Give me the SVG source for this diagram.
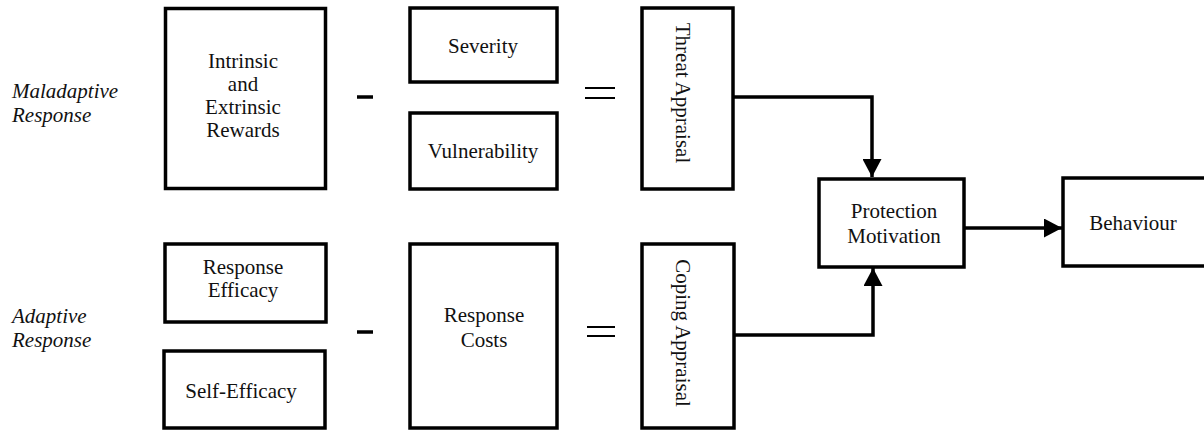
<svg xmlns="http://www.w3.org/2000/svg" width="1204" height="431" viewBox="0 0 1204 431">
<style>
.box{fill:#fff;stroke:#000;stroke-width:3.5}
.t{font-family:"Liberation Serif","Times New Roman",serif;font-size:21px;fill:#111;text-anchor:middle}
.it{font-family:"Liberation Serif","Times New Roman",serif;font-size:21px;font-style:italic;fill:#111}
.ln{stroke:#000;stroke-width:3.5;fill:none}
.op{stroke:#000;fill:none}
</style>
<defs>
<marker id="ah" viewBox="0 0 18 19" refX="18" refY="9.5" markerWidth="18" markerHeight="19" markerUnits="userSpaceOnUse" orient="auto">
<polygon points="0,0 18,9.5 0,19" fill="#000"/>
</marker>
</defs>
<rect width="1204" height="431" fill="#fff"/>
<g id="labels">
<text class="it" x="12" y="98">Maladaptive</text>
<text class="it" x="12" y="122">Response</text>
<text class="it" x="12" y="323">Adaptive</text>
<text class="it" x="12" y="347">Response</text>
</g>
<g id="rewards"><rect class="box" x="165.5" y="8.5" width="160" height="180"/>
<text class="t" x="243" y="68">Intrinsic</text><text class="t" x="243" y="91">and</text><text class="t" x="243" y="114">Extrinsic</text><text class="t" x="243" y="137">Rewards</text></g>
<g id="severity"><rect class="box" x="410" y="8" width="147" height="74"/><text class="t" x="483" y="53">Severity</text></g>
<g id="vulnerability"><rect class="box" x="410" y="113" width="147" height="76"/><text class="t" x="483" y="158">Vulnerability</text></g>
<g id="threat"><rect class="box" x="642" y="8" width="91" height="181"/><text class="t" transform="translate(676,93) rotate(90)">Threat Appraisal</text></g>
<g id="resp-eff"><rect class="box" x="165" y="244" width="161" height="78"/><text class="t" x="243" y="274">Response</text><text class="t" x="243" y="297">Efficacy</text></g>
<g id="self-eff"><rect class="box" x="164" y="351" width="161" height="77"/><text class="t" x="241" y="398">Self-Efficacy</text></g>
<g id="resp-costs"><rect class="box" x="410" y="244" width="147" height="184"/><text class="t" x="484" y="322">Response</text><text class="t" x="484" y="347">Costs</text></g>
<g id="coping"><rect class="box" x="642" y="244" width="92" height="184"/><text class="t" transform="translate(676,333) rotate(90)">Coping Appraisal</text></g>
<g id="protection"><rect class="box" x="819" y="179" width="145" height="88"/><text class="t" x="894" y="218">Protection</text><text class="t" x="894" y="243">Motivation</text></g>
<g id="behaviour"><rect class="box" x="1063" y="178" width="150" height="88"/><text class="t" x="1133" y="230">Behaviour</text></g>
<g id="operators">
<line class="op" x1="357" y1="97" x2="373" y2="97" stroke-width="3.5"/>
<line class="op" x1="357" y1="332" x2="373" y2="332" stroke-width="3.5"/>
<line class="op" x1="585" y1="88" x2="615" y2="88" stroke-width="2"/>
<line class="op" x1="585" y1="98" x2="615" y2="98" stroke-width="2"/>
<line class="op" x1="587" y1="327" x2="615" y2="327" stroke-width="2"/>
<line class="op" x1="587" y1="336" x2="615" y2="336" stroke-width="2"/>
</g>
<g id="connectors">
<polyline class="ln" points="733,97 872,97 872,177" marker-end="url(#ah)"/>
<polyline class="ln" points="734,335 873,335 873,268" marker-end="url(#ah)"/>
<line class="ln" x1="964" y1="228" x2="1062" y2="228" marker-end="url(#ah)"/>
</g>
</svg>
